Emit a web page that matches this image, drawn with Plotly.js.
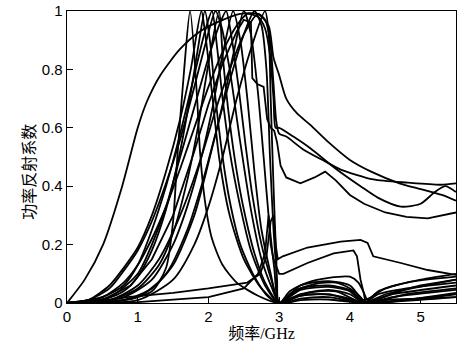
<!DOCTYPE html>
<html><head><meta charset="utf-8">
<script src="https://cdn.plot.ly/plotly-3.0.1.min.js"></script>
<style>html,body{margin:0;padding:0;background:#fff}#c{width:461px;height:343px}</style>
</head><body><div id="c"></div>
<script>
// Broad curve and curves with high tails
const c1x = [0,0.25,0.51,0.78,1.0,1.13,1.32,1.6,1.88,2.17,2.45,2.7,2.85,2.92,3.0,3.1,3.25,3.44,3.7,4.0,4.3,4.7,5.0,5.3,5.5];
const c1y = [0,0.08,0.2,0.4,0.6,0.69,0.78,0.87,0.93,0.966,0.99,0.99,0.95,0.84,0.78,0.70,0.65,0.61,0.55,0.49,0.45,0.41,0.39,0.37,0.35];
const c2x = [0,0.5,0.8,1.0,1.2,1.4,1.6,1.8,2.0,2.2,2.4,2.55,2.7,2.8,2.87,2.92,2.95,3.0,3.2,3.44,3.8,4.15,4.4,4.72,5.0,5.2,5.35,5.5];
const c2y = [0,0.02,0.07,0.13,0.22,0.33,0.46,0.6,0.74,0.86,0.95,0.99,0.98,0.94,0.85,0.7,0.6,0.6,0.57,0.53,0.46,0.40,0.36,0.33,0.34,0.38,0.40,0.38];
const c3x = [0,0.6,1.0,1.3,1.6,1.9,2.1,2.3,2.5,2.7,2.8,2.87,2.92,2.96,3.0,3.1,3.34,3.65,3.87,4.33,4.82,5.28,5.5];
const c3y = [0,0.01,0.06,0.15,0.3,0.5,0.66,0.8,0.92,0.99,0.97,0.9,0.75,0.62,0.58,0.57,0.526,0.485,0.457,0.423,0.412,0.405,0.41];
const c4x = [0,0.5,0.9,1.2,1.5,1.8,2.0,2.2,2.4,2.5,2.6,2.62,2.69,2.78,2.83,2.88,2.93,2.97,3.02,3.1,3.3,3.5,3.65,3.8,4.0,4.2,4.5,4.8,5.1,5.3,5.5];
const c4y = [0,0.01,0.06,0.15,0.3,0.52,0.68,0.82,0.93,0.97,0.96,0.77,0.75,0.74,0.63,0.6,0.59,0.55,0.47,0.43,0.41,0.43,0.45,0.42,0.37,0.34,0.31,0.295,0.29,0.30,0.31];
// Resonance curves
const r1x = [0,0.8,1.2,1.4,1.5,1.56,1.65,1.74,1.84,1.88,1.95,2.05,2.2,2.4,2.7,3.0,3.2,3.5,3.8,4.0,4.2,4.5,5.0,5.5];
const r1y = [0,0.01,0.04,0.12,0.28,0.5,0.78,1.0,0.7,0.52,0.35,0.22,0.13,0.07,0.025,0,0.02,0.03,0.025,0.015,0,0.01,0.015,0.02];
const r2x = [0,0.5,0.8,1.0,1.2,1.4,1.6,1.75,1.85,1.95,2.02,2.1,2.2,2.3,2.45,2.65,2.85,3.0,3.2,3.5,3.8,4.0,4.15,4.2,4.4,4.8,5.5];
const r2y = [0,0.01,0.04,0.09,0.18,0.32,0.52,0.72,0.87,1.0,0.9,0.7,0.5,0.35,0.2,0.09,0.02,0,0.04,0.065,0.07,0.05,0.02,0,0.03,0.05,0.07];
const r3x = [0,0.5,0.8,1.0,1.2,1.4,1.6,1.8,1.95,2.05,2.12,2.2,2.3,2.45,2.6,2.8,3.0,3.15,3.4,3.7,4.0,4.12,4.2,4.25,4.4,4.8,5.5];
const r3y = [0,0.02,0.06,0.13,0.25,0.4,0.58,0.78,0.93,1.0,0.88,0.7,0.52,0.33,0.18,0.06,0,0.04,0.07,0.086,0.09,0.07,0.034,0.01,0.04,0.07,0.09];
const r4x = [0,0.6,1.0,1.3,1.5,1.7,1.85,2.0,2.15,2.2,2.3,2.4,2.5,2.65,2.8,3.0,3.3,3.7,4.0,4.2,4.6,5.5];
const r4y = [0,0.01,0.05,0.13,0.24,0.42,0.6,0.82,1.0,0.85,0.62,0.45,0.32,0.17,0.07,0,0.03,0.045,0.03,0,0.02,0.045];
const r5x = [0,0.6,1.0,1.2,1.4,1.6,1.8,2.0,2.15,2.25,2.32,2.42,2.52,2.62,2.75,2.9,3.0,3.3,3.7,4.0,4.2,4.6,5.5];
const r5y = [0,0.02,0.1,0.2,0.33,0.5,0.67,0.84,0.95,1.0,0.92,0.75,0.55,0.37,0.2,0.07,0,0.05,0.06,0.045,0.005,0.03,0.06];
const r6x = [0,0.8,1.2,1.5,1.7,1.9,2.05,2.2,2.35,2.45,2.55,2.65,2.75,2.88,3.0,3.3,3.7,4.2,5.5];
const r6y = [0,0.02,0.08,0.2,0.33,0.5,0.66,0.85,1.0,0.9,0.7,0.45,0.25,0.1,0,0.015,0.02,0,0.03];
const r7x = [0,0.8,1.2,1.5,1.8,2.0,2.2,2.35,2.5,2.6,2.7,2.78,2.85,2.93,3.0,3.3,3.7,4.0,4.2,4.5,5.0,5.5];
const r7y = [0,0.01,0.05,0.13,0.3,0.48,0.68,0.85,1.0,0.92,0.72,0.5,0.3,0.12,0,0.06,0.075,0.06,0.01,0.05,0.08,0.1];
const r8x = [0,1.0,1.4,1.7,1.9,2.1,2.3,2.5,2.65,2.75,2.82,2.87,2.92,2.97,3.0,3.4,3.8,4.2,4.8,5.5];
const r8y = [0,0.02,0.1,0.25,0.4,0.58,0.76,0.92,1.0,0.95,0.8,0.5,0.25,0.08,0,0.035,0.04,0,0.03,0.05];
const r9x = [0,1.0,1.5,1.8,2.0,2.2,2.4,2.6,2.8,2.85,2.88,2.92,2.96,3.0,3.3,3.7,4.2,5.5];
const r9y = [0,0.01,0.08,0.2,0.33,0.5,0.7,0.87,1.0,0.93,0.7,0.4,0.15,0,0.01,0.012,0,0.02];
const r10x = [0,0.3,0.6,0.8,1.0,1.2,1.4,1.6,1.75,1.9,1.95,2.05,2.15,2.3,2.5,2.75,3.0,3.3,3.7,4.0,4.2,4.7,5.5];
const r10y = [0,0.01,0.06,0.12,0.19,0.3,0.45,0.63,0.8,1.0,0.93,0.72,0.5,0.3,0.15,0.05,0,0.045,0.055,0.04,0,0.04,0.08];
const r11x = [0,0.3,0.6,0.8,1.0,1.2,1.4,1.6,1.8,1.95,2.1,2.18,2.3,2.45,2.6,2.75,2.9,3.0,3.3,3.7,4.2,5.5];
const r11y = [0,0.01,0.05,0.11,0.18,0.28,0.41,0.56,0.74,0.88,1.0,0.95,0.8,0.55,0.32,0.15,0.05,0,0.025,0.03,0,0.035];
// Low curves
const l1x = [0,0.5,0.85,1.5,2.0,2.55,2.73,2.82,2.88,2.92,2.95,2.98,3.05,3.4,3.87,4.15,4.25,4.33,4.72,5.1,5.5];
const l1y = [0,0.005,0.02,0.035,0.05,0.07,0.1,0.16,0.28,0.3,0.2,0.15,0.16,0.19,0.21,0.216,0.206,0.16,0.137,0.113,0.096];
const l2x = [0,1.0,2.0,2.5,2.7,2.8,2.85,2.88,2.92,3.0,3.06,3.4,3.77,4.05,4.1,4.15,4.2,4.22,4.5,5.0,5.5];
const l2y = [0,0.003,0.02,0.05,0.1,0.17,0.3,0.2,0.15,0.1,0.1,0.137,0.17,0.18,0.16,0.08,0.03,0,0.03,0.06,0.08];

const series = [[c1x,c1y],[c2x,c2y],[c3x,c3y],[c4x,c4y],[r1x,r1y],[r2x,r2y],[r3x,r3y],[r4x,r4y],[r5x,r5y],[r6x,r6y],[r7x,r7y],[r8x,r8y],[r9x,r9y],[r10x,r10y],[r11x,r11y],[l1x,l1y],[l2x,l2y]];
const smoothSet = new Set([0,1,2,4,5,6,7,8,9,10,11,12,13,14]);
const xTicks = [0,1,2,3,4,5];
const yTicks = [0,0.2,0.4,0.6,0.8,1];
const yTickText = ['0','0.2','0.4','0.6','0.8','1'];

const traces = series.map((s, i) => ({x: s[0], y: s[1], type: 'scatter', mode: 'lines', cliponaxis: true,
  line: {color: '#000', width: 1.8, shape: smoothSet.has(i) ? 'spline' : 'linear', smoothing: 0.7}, hoverinfo: 'skip'}));

const tickFont = {family: 'Liberation Sans, Arial, sans-serif', size: 15, color: '#000'};
const titleFont = {family: 'Liberation Serif, Noto Sans CJK SC, serif', size: 16, color: '#000'};
const layout = {
  width: 461, height: 343,
  margin: {l: 67, r: 5, t: 11, b: 40},
  paper_bgcolor: '#fff', plot_bgcolor: '#fff',
  showlegend: false,
  xaxis: {range: [0, 5.5], tickvals: xTicks, ticktext: xTicks.map(String), ticks: 'inside', ticklen: 6, tickcolor: '#000',
    showgrid: false, zeroline: false, showline: true, linecolor: '#000', linewidth: 1.3, mirror: true, tickfont: tickFont,
    title: {text: '频率/GHz', font: titleFont, standoff: 2}},
  yaxis: {range: [0, 1], tickvals: yTicks, ticktext: yTickText, ticks: 'inside', ticklen: 6, tickcolor: '#000',
    showgrid: false, zeroline: false, showline: true, linecolor: '#000', linewidth: 1.3, mirror: true, tickfont: tickFont},
  annotations: [{text: '功率反射系数', textangle: -90, xref: 'paper', yref: 'paper', x: -0.095, y: 0.45,
    xanchor: 'center', yanchor: 'middle', showarrow: false, font: titleFont}]
};
Plotly.newPlot('c', traces, layout, {staticPlot: true, displayModeBar: false});
</script>
</body></html>
